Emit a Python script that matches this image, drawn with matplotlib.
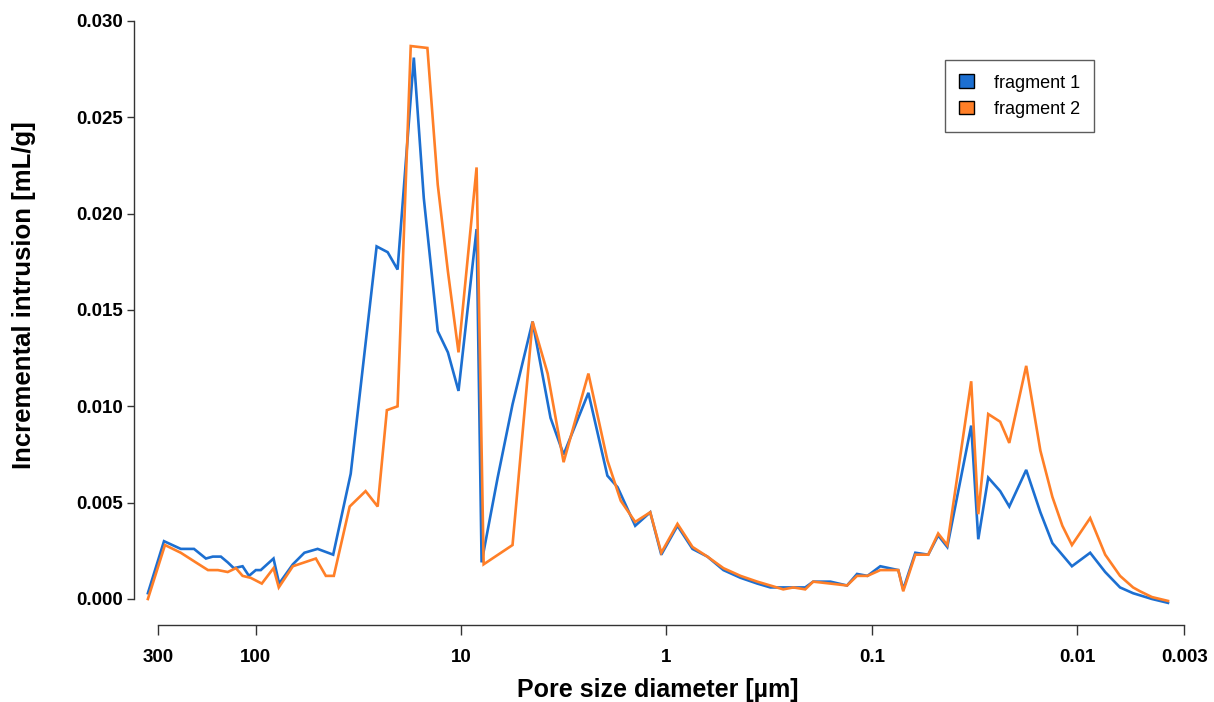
import matplotlib
matplotlib.use("Agg")
import matplotlib.pyplot as plt
from matplotlib.patches import Patch
from matplotlib.ticker import FixedLocator, FixedFormatter

# pore size diameter [um] and incremental intrusion [mL/g]
diam_1 = [335.5, 280, 232, 200, 175, 162, 148, 137, 128, 116, 108, 100, 94.6,
          82, 77, 66, 58, 50, 42, 34.5, 25.8, 22.8, 20.4, 17.0, 15.2, 13.0,
          11.6, 10.3, 8.41, 7.95, 6.64, 5.62, 4.49, 3.67, 3.17, 2.40, 1.94,
          1.73, 1.42, 1.20, 1.06, 0.884, 0.747, 0.632, 0.528, 0.436, 0.361,
          0.312, 0.270, 0.241, 0.211, 0.193, 0.159, 0.132, 0.118, 0.105,
          0.0909, 0.0743, 0.0703, 0.0614, 0.0531, 0.0475, 0.0429, 0.0328,
          0.0303, 0.0271, 0.0237, 0.0214, 0.0177, 0.0151, 0.0132, 0.0106,
          0.00864, 0.00730, 0.00618, 0.00534, 0.00432, 0.00361]
frag_1 = [0.0003, 0.0030, 0.0026, 0.0026, 0.0021, 0.0022, 0.0022, 0.0019,
          0.0016, 0.0017, 0.0012, 0.0015, 0.0015, 0.0021, 0.0008, 0.0018,
          0.0024, 0.0026, 0.0023, 0.0065, 0.0183, 0.0180, 0.0171, 0.0281,
          0.0208, 0.0139, 0.0128, 0.0108, 0.0192, 0.0019, 0.0063, 0.0101,
          0.0144, 0.0094, 0.0075, 0.0107, 0.0064, 0.0058, 0.0038, 0.0045,
          0.0023, 0.0038, 0.0026, 0.0022, 0.0015, 0.0011, 0.0008, 0.0006,
          0.0006, 0.0006, 0.0006, 0.0009, 0.0009, 0.0007, 0.0013, 0.0012,
          0.0017, 0.0015, 0.0005, 0.0024, 0.0023, 0.0033, 0.0027, 0.0090,
          0.0031, 0.0063, 0.0056, 0.0048, 0.0067, 0.0045, 0.0029, 0.0017,
          0.0024, 0.0014, 0.0006, 0.0003, 0.0000, -0.0002]

diam_2 = [335.5, 277, 232, 196, 171, 153, 137, 125, 116, 106, 93.5, 82, 77.3,
          66, 58, 51, 45.6, 41.7, 34.9, 29.2, 25.5, 23.0, 20.4, 17.6, 14.6,
          13.0, 11.6, 10.3, 8.41, 7.77, 5.62, 4.49, 3.79, 3.17, 2.40, 1.94,
          1.67, 1.42, 1.20, 1.06, 0.884, 0.747, 0.632, 0.528, 0.436, 0.361,
          0.312, 0.270, 0.241, 0.211, 0.193, 0.159, 0.132, 0.118, 0.105,
          0.0909, 0.0743, 0.0703, 0.0614, 0.0531, 0.0475, 0.0429, 0.0328,
          0.0303, 0.0271, 0.0237, 0.0214, 0.0177, 0.0151, 0.0132, 0.0118,
          0.0106, 0.00864, 0.00730, 0.00618, 0.00534, 0.00494, 0.00432,
          0.00361]
frag_2 = [0.0000, 0.0028, 0.0024, 0.0019, 0.0015, 0.0015, 0.0014, 0.0016,
          0.0012, 0.0011, 0.0008, 0.0016, 0.0006, 0.0017, 0.0019, 0.0021,
          0.0012, 0.0012, 0.0048, 0.0056, 0.0048, 0.0098, 0.0100, 0.0287,
          0.0286, 0.0215, 0.0170, 0.0128, 0.0224, 0.0018, 0.0028, 0.0144,
          0.0117, 0.0071, 0.0117, 0.0072, 0.0051, 0.0040, 0.0045, 0.0024,
          0.0039, 0.0027, 0.0022, 0.0016, 0.0012, 0.0009, 0.0007, 0.0005,
          0.0006, 0.0005, 0.0009, 0.0008, 0.0007, 0.0012, 0.0012, 0.0015,
          0.0015, 0.0004, 0.0023, 0.0023, 0.0034, 0.0028, 0.0113, 0.0044,
          0.0096, 0.0092, 0.0081, 0.0121, 0.0077, 0.0053, 0.0038, 0.0028,
          0.0042, 0.0023, 0.0012, 0.0006, 0.0004, 0.0001, -0.0001]

x_ticks = [300, 100, 10, 1, 0.1, 0.01, 0.003]
x_labels = ["300", "100", "10", "1", "0.1", "0.01", "0.003"]
y_ticks = [0.000, 0.005, 0.010, 0.015, 0.020, 0.025, 0.030]

BLUE = "#1c6fd1"
ORANGE = "#ff7f27"

plt.rcParams["font.family"] = ["Liberation Sans", "DejaVu Sans"]

fig = plt.figure(figsize=(12.14, 7.02), dpi=100)
ax = fig.add_axes([134 / 1214, 77 / 702, 1066 / 1214, 620 / 702])

ax.plot(diam_1, frag_1, color=BLUE, lw=1.9, solid_joinstyle="miter")
ax.plot(diam_2, frag_2, color=ORANGE, lw=1.9, solid_joinstyle="miter")

ax.set_xscale("log")
ax.set_xlim(392, 0.002521)
ax.set_ylim(-0.00135, 0.03083)

for s in ("top", "right"):
    ax.spines[s].set_visible(False)
ax.spines["left"].set_bounds(0, 0.03)
ax.spines["bottom"].set_bounds(300, 0.003)
for s in ("left", "bottom"):
    ax.spines[s].set_color("#333333")
    ax.spines[s].set_linewidth(1.0)

ax.xaxis.set_major_locator(FixedLocator(x_ticks))
ax.xaxis.set_major_formatter(FixedFormatter(x_labels))
ax.xaxis.set_minor_locator(FixedLocator([]))
ax.set_yticks(y_ticks)
ax.set_yticklabels([f"{v:.3f}" for v in y_ticks])
ax.tick_params(axis="x", length=7, width=1, pad=10, labelsize=13.5, color="#333333")
ax.tick_params(axis="y", length=5, width=1, pad=3, labelsize=13.5, color="#333333")
for lab in ax.get_xticklabels() + ax.get_yticklabels():
    lab.set_fontweight("bold")

fig.text(658 / 1214, 1 - 690 / 702, "Pore size diameter [µm]", ha="center",
         va="center", fontsize=18, fontweight="bold")
fig.text(24 / 1214, 1 - 295 / 702, "Incremental intrusion [mL/g]", ha="center",
         va="center", rotation=90, fontsize=18.5, fontweight="bold")

handles = [Patch(facecolor=BLUE, edgecolor="black", label="fragment 1"),
           Patch(facecolor=ORANGE, edgecolor="black", label="fragment 2")]
leg = ax.legend(handles=handles, loc="upper left",
                bbox_to_anchor=(945 / 1214, 1 - 60 / 702),
                bbox_transform=fig.transFigure, frameon=True, fancybox=False,
                fontsize=13, handlelength=0.8, handleheight=0.8,
                handletextpad=1.1, labelspacing=0.5, borderpad=0.8,
                borderaxespad=0)
leg.get_frame().set_edgecolor("#333333")
leg.get_frame().set_linewidth(1.0)

fig.savefig("out.png", dpi=100)
